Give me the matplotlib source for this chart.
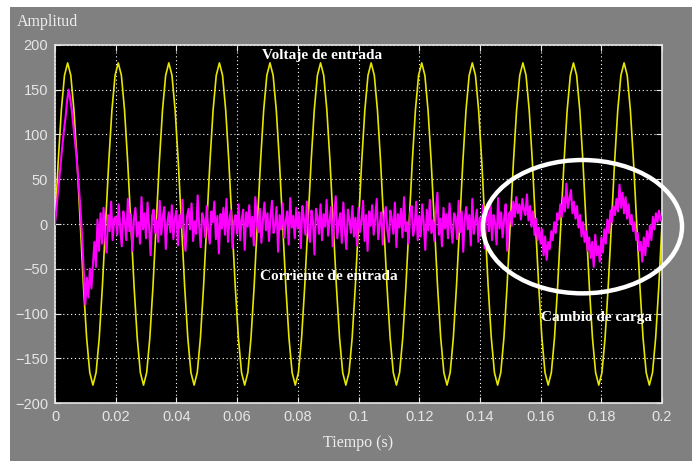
import numpy as np
import matplotlib
matplotlib.use("Agg")
import matplotlib.pyplot as plt
from matplotlib.patches import Ellipse, Rectangle

# input voltage, 16 samples per 60 Hz cycle (12 cycles)
voltaje = [
    0, 69, 127, 166, 180, 166, 127, 69, 0, -69, -127, -166, -180, -166, -127, -69,
    0, 69, 127, 166, 180, 166, 127, 69, 0, -69, -127, -166, -180, -166, -127, -69,
    0, 69, 127, 166, 180, 166, 127, 69, 0, -69, -127, -166, -180, -166, -127, -69,
    0, 69, 127, 166, 180, 166, 127, 69, 0, -69, -127, -166, -180, -166, -127, -69,
    0, 69, 127, 166, 180, 166, 127, 69, 0, -69, -127, -166, -180, -166, -127, -69,
    0, 69, 127, 166, 180, 166, 127, 69, 0, -69, -127, -166, -180, -166, -127, -69,
    0, 69, 127, 166, 180, 166, 127, 69, 0, -69, -127, -166, -180, -166, -127, -69,
    0, 69, 127, 166, 180, 166, 127, 69, 0, -69, -127, -166, -180, -166, -127, -69,
    0, 69, 127, 166, 180, 166, 127, 69, 0, -69, -127, -166, -180, -166, -127, -69,
    0, 69, 127, 166, 180, 166, 127, 69, 0, -69, -127, -166, -180, -166, -127, -69,
    0, 69, 127, 166, 180, 166, 127, 69, 0, -69, -127, -166, -180, -166, -127, -69,
    0, 69, 127, 166, 180, 166, 127, 69, 0, -69, -127, -166, -180, -166, -127, -69,
    0,
]

# input current, one sample every 0.5 ms (one row = 10 ms)
corriente = [
    0, 18, 36, 55, 72, 90, 106, 120, 138, 150, 140, 128, 112, 95, 78, 58, 35, 10, -20, -55,
    -90, -60, -82, -50, -72, -45, -20, -48, 5, -30, 12, -22, 18, -15, -32, 10, -8, 25, -18, 6,
    8, -12, 22, -5, -25, 14, 3, -18, 28, -8, 11, -30, 5, 18, -14, 2, -22, 30, -6, 12,
    -16, 24, -3, -35, 9, 16, -10, 4, -20, 26, -12, 7, 19, -28, 1, 13, -9, 21, -17, 6,
    15, -24, 10, -4, 27, -13, -30, 8, 17, -6, 23, -19, 3, -11, 32, -2, -26, 12, 5, -15,
    20, -8, -22, 14, 2, 25, -17, 9, -33, 11, -5, 18, -12, 28, -20, 6, 15, -27, 3, 10,
    -11, 22, -18, 5, 16, -29, 13, -3, 21, -14, 8, -24, 30, 1, -9, 17, -21, 4, 24, -7,
    12, -19, 7, 26, -10, -2, 19, -31, 10, -6, 23, -15, 2, 14, -23, 29, -4, 9, -16, 18,
    -5, 13, -27, 20, 6, -12, 25, -8, -20, 15, 3, -34, 17, 8, -11, 22, -18, 11, -3, 27,
    -13, 4, 19, -25, 9, 31, -16, 2, 12, -21, 24, -7, -28, 16, 5, -10, 20, -14, 7, -24,
    18, -9, 3, 26, -19, 10, -30, 14, -2, 21, -12, 6, 28, -17, 0, 13, -23, 8, 19, -6,
    -20, 15, 5, -11, 24, -26, 11, -4, 17, -15, 30, -8, 2, -22, 12, 20, -13, -3, 25, -18,
    9, -14, 22, 1, -29, 16, -7, 27, -10, 4, -19, 13, 35, -12, 6, -25, 18, -5, 11, -16,
    23, -3, -21, 12, 8, -17, 26, -9, 14, -31, 5, 19, -6, 10, -24, 28, -11, 3, 16, -20,
    7, -13, 21, -27, 4, 15, -8, 24, -18, 10, 1, -23, 29, -5, 13, -15, 6, 22, -30, 11,
    14, -2, 25, 8, 30, 12, 22, 5, 28, 16, 10, 33, 4, 20, -3, 14, -12, 6, -18, -4,
    -22, -6, -35, -14, -40, -20, -28, -8, -18, 2, -10, 12, 5, 22, 8, 30, 14, 45, 18, 28,
    38, 12, 25, 6, 20, -4, 10, -14, 2, -20, -8, -30, -15, -38, -20, -48, -12, -35, -25, -42,
    -15, -32, -6, -22, 5, -10, 15, 2, 20, 10, 28, 14, 44, 18, 35, 12, 30, 6, 22, 0,
    10, -8, 2, -18, -10, -30, -20, -42, -15, -35, -8, -25, -2, -18, 8, -6, 12, 2, 15, 4,
    8,
]

t_v = np.linspace(0, 0.2, len(voltaje))
t_i = np.linspace(0, 0.2, len(corriente))

xticks = [0, 0.02, 0.04, 0.06, 0.08, 0.1, 0.12, 0.14, 0.16, 0.18, 0.2]
xlabels = ['0', '0.02', '0.04', '0.06', '0.08', '0.1', '0.12', '0.14', '0.16', '0.18', '0.2']
yticks = [-200, -150, -100, -50, 0, 50, 100, 150, 200]

light = '#e6e6e6'

fig = plt.figure(figsize=(6.99, 4.61), dpi=100, facecolor='white')
fig.patches.append(Rectangle((10 / 699, 0), 682 / 699, 1 - 7 / 461,
                             transform=fig.transFigure, facecolor='#808080',
                             edgecolor='none', zorder=-1))

ax = fig.add_axes([55 / 699, 1 - 403 / 461, 607 / 699, 358 / 461])
ax.set_facecolor('black')

ax.plot(t_v, voltaje, color='#e6e600', lw=1.2, zorder=2)
ax.plot(t_i, corriente, color='#ff00ff', lw=1.5, zorder=3)

ax.set_xlim(0, 0.2)
ax.set_ylim(-200, 200)
ax.set_xticks(xticks)
ax.set_xticklabels(xlabels)
ax.set_yticks(yticks)
ax.grid(True, color='white', linestyle=(0, (1, 2.5)), lw=0.8)
ax.tick_params(direction='in', colors=light, labelcolor=light, length=4,
               top=True, right=True, labelsize=10.5, pad=5)
for lab in ax.get_xticklabels() + ax.get_yticklabels():
    lab.set_family('Liberation Sans')
for s in ax.spines.values():
    s.set_color(light)
    s.set_linewidth(1.2)

ax.set_xlabel('Tiempo (s)', family='Liberation Serif', fontsize=11.5,
              color='#eeeeee', labelpad=8)
fig.text(17 / 699, 1 - 22 / 461, 'Amplitud', family='Liberation Serif',
         fontsize=11.5, color='#eeeeee', va='center', ha='left')

bold = dict(family='Liberation Serif', fontsize=11, fontweight='bold',
            color='white', ha='center', va='center', zorder=5)
ax.text(0.0879, 188, 'Voltaje de entrada', **bold)
ax.text(0.0901, -59, 'Corriente de entrada', **bold)
ax.text(0.1785, -105, 'Cambio de carga', **bold)

ax.add_patch(Ellipse((0.1738, -3), 0.0656, 149, fill=False,
                     edgecolor='white', lw=3.2, clip_on=False, zorder=6))

fig.savefig('out.png', dpi=100, facecolor=fig.get_facecolor())
